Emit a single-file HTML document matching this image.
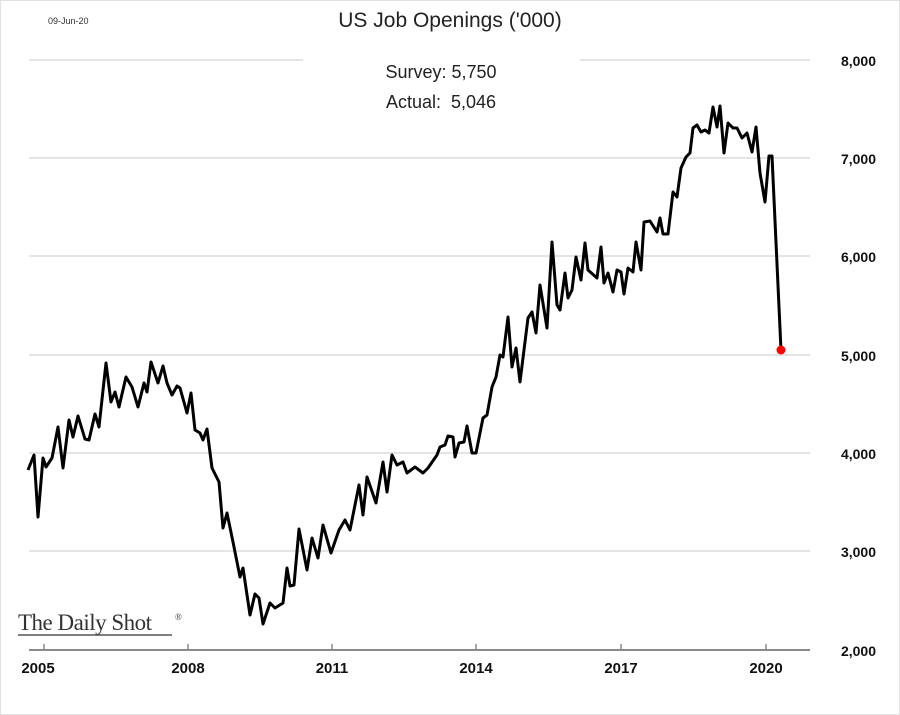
<!DOCTYPE html>
<html><head><meta charset="utf-8"><style>
body{margin:0;background:#fff}
svg{display:block}
</style></head><body>
<svg width="900" height="715" viewBox="0 0 900 715" xmlns="http://www.w3.org/2000/svg" font-family="Liberation Sans, sans-serif">
<rect x="0.5" y="0.5" width="899" height="714" fill="#fff" stroke="#e2e2e2"/>
<g stroke="#e4e4e4" stroke-width="2">
<line x1="29" y1="60" x2="303" y2="60"/><line x1="580" y1="60" x2="810" y2="60"/>
<line x1="29" y1="158" x2="810" y2="158"/>
<line x1="29" y1="256" x2="810" y2="256"/>
<line x1="29" y1="355" x2="810" y2="355"/>
<line x1="29" y1="453" x2="810" y2="453"/>
<line x1="29" y1="551" x2="810" y2="551"/>
</g>
<line x1="29" y1="650" x2="810" y2="650" stroke="#8a8a8a" stroke-width="2"/>
<g stroke="#8a8a8a" stroke-width="1.5">
<line x1="44" y1="644" x2="44" y2="650"/><line x1="188" y1="644" x2="188" y2="650"/><line x1="332" y1="644" x2="332" y2="650"/><line x1="476" y1="644" x2="476" y2="650"/><line x1="621" y1="644" x2="621" y2="650"/><line x1="766" y1="644" x2="766" y2="650"/>
</g>
<text x="48" y="24" font-size="9" fill="#333">09-Jun-20</text>
<text x="450" y="27" font-size="21" text-anchor="middle" fill="#222">US Job Openings ('000)</text>
<text x="441" y="78" font-size="18" text-anchor="middle" fill="#222">Survey: 5,750</text>
<text x="441" y="108" font-size="18" text-anchor="middle" fill="#222" xml:space="preserve">Actual:  5,046</text>
<g font-size="14" font-weight="bold" fill="#111" text-anchor="end">
<text x="876" y="66">8,000</text><text x="876" y="164">7,000</text><text x="876" y="262">6,000</text><text x="876" y="361">5,000</text><text x="876" y="459">4,000</text><text x="876" y="557">3,000</text><text x="876" y="656">2,000</text>
</g>
<g font-size="15" font-weight="bold" fill="#111" text-anchor="middle">
<text x="38" y="673">2005</text><text x="188" y="673">2008</text><text x="332" y="673">2011</text><text x="476" y="673">2014</text><text x="621" y="673">2017</text><text x="766" y="673">2020</text>
</g>
<text x="18" y="630" font-family="Liberation Serif, serif" font-size="23" fill="#333" letter-spacing="-0.5">The Daily Shot</text><text x="175" y="620" font-family="Liberation Serif, serif" font-size="9" fill="#333">®</text>
<line x1="18" y1="635" x2="172" y2="635" stroke="#555" stroke-width="1.5"/>
<polyline fill="none" stroke="#000" stroke-width="3" stroke-linejoin="round" points="28,470 34,455 38,517 43,458 46,467 52,458 58,427 63,468 69,420 73,437 78,416 85,439 89,440 95,414 99,427 106,363 111,402 115,392 119,407 126,377 132,387 138,407 144,383 147,392 151,362 158,383 163,366 167,383 172,395 177,386 180,388 187,413 191,393 195,430 200,433 203,440 207,429 212,468 219,482 223,528 227,513 233,542 240,577 243,568 250,615 255,594 259,598 263,624 270,603 275,608 283,603 287,568 290,586 294,585 299,529 307,570 312,538 318,558 323,525 331,553 339,530 345,520 350,530 359,485 363,515 367,477 376,503 383,462 387,492 392,455 397,465 403,462 407,473 415,467 423,473 428,468 437,455 440,447 445,445 448,436 453,437 455,457 459,443 464,442 467,426 472,453 476,453 483,418 487,415 492,387 496,377 500,355 503,357 508,317 512,367 516,348 520,382 528,318 532,312 536,333 540,285 547,328 552,242 557,305 560,310 565,273 568,298 572,290 576,257 581,280 585,243 588,270 597,278 601,247 604,283 608,273 613,292 617,270 621,272 624,294 628,268 633,272 636,242 641,270 644,222 650,221 657,232 660,218 663,234 668,234 673,192 677,197 681,168 686,157 690,153 693,128 697,125 701,132 705,130 709,133 713,107 717,127 720,106 724,153 728,123 733,128 737,128 742,138 747,133 752,152 756,127 760,173 765,202 769,156 772,156 781,350"/>
<circle cx="781" cy="350" r="4.5" fill="#f00"/>
</svg>
</body></html>
